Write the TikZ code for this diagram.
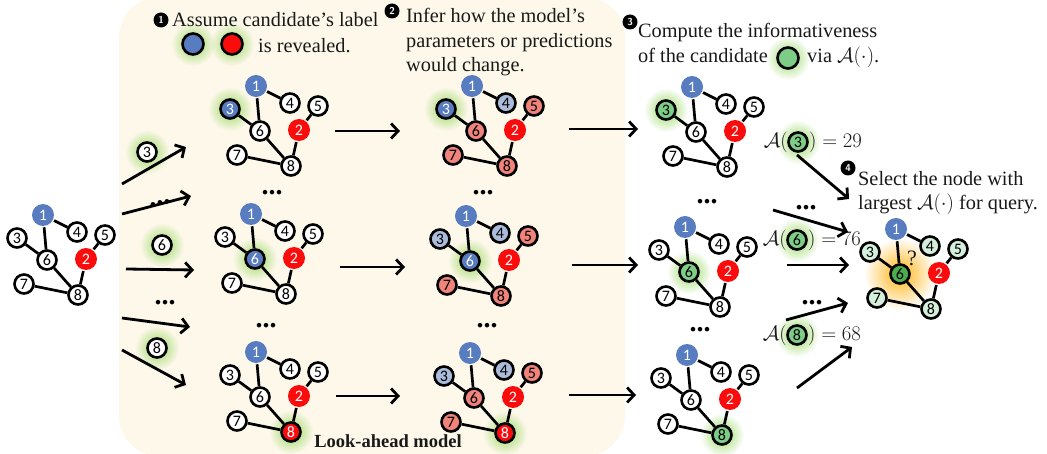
\documentclass[tikz,border=0pt]{standalone}
\usepackage{fontspec}
\setmainfont{Liberation Serif}
\newfontfamily\nf{Carlito}
\usetikzlibrary{arrows.meta,fadings}
\definecolor{nblue}{RGB}{88,124,192}
\definecolor{nred}{RGB}{250,12,12}
\definecolor{nlblue}{RGB}{170,188,218}
\definecolor{nsalm}{RGB}{240,132,122}
\definecolor{ngreen}{RGB}{125,205,135}
\definecolor{nlgreen}{RGB}{212,240,220}
\definecolor{ndgreen}{RGB}{76,172,80}
\definecolor{glowgreen}{RGB}{150,215,95}
\definecolor{gloworange}{RGB}{255,180,20}
\definecolor{beige}{RGB}{253,248,234}
\definecolor{ink}{RGB}{25,25,25}
\tikzfading[name=glowfade, inner color=transparent!0, outer color=transparent!100]
\pgfdeclarelayer{bgl}\pgfdeclarelayer{glowl}\pgfsetlayers{bgl,glowl,main}
\tikzset{
  gn/.style={circle, draw=black, line width=2.6pt, fill=white, minimum size=19pt, inner sep=0pt, text=black, font=\nf\fontsize{16}{16}\selectfont},
  pblue/.style={fill=nblue, draw=none, text=white, minimum size=22pt},
  pred/.style={fill=nred, draw=none, text=white, minimum size=22pt},
  cblue/.style={fill=nblue, text=white},
  cred/.style={fill=nred, text=white},
  lblue/.style={fill=nlblue},
  salm/.style={fill=nsalm},
  cgreen/.style={fill=ngreen},
  lgreen/.style={fill=nlgreen},
  dgreen/.style={fill=ndgreen},
  edge/.style={line width=2.7pt, black},
  arr/.style={line width=2.8pt, black, -{Straight Barb[length=7pt,width=15pt]}},
  txt/.style={font=\fontsize{20.3}{24.5}\selectfont, text=ink, inner sep=0pt},
  stepnum/.style={circle, fill=black, text=white, inner sep=0pt, minimum size=15pt, font=\sffamily\bfseries\fontsize{10}{10}\selectfont},
  dotsty/.style={font=\bfseries\fontsize{28}{28}\selectfont, inner sep=0pt, anchor=base},
}
\newcommand\drawgraph[4]{%
 \begin{scope}[shift={(#2,#3)}, s1/.style={pblue}, s2/.style={pred}, s3/.style={}, s4/.style={}, s5/.style={}, s6/.style={}, s7/.style={}, s8/.style={}, #4]
  \node[gn,s1] (#1-1) at (0,0) {1};
  \node[gn,s4] (#1-4) at (34,17) {4};
  \node[gn,s5] (#1-5) at (62,20) {5};
  \node[gn,s3] (#1-3) at (-26,23) {3};
  \node[gn,s6] (#1-6) at (4,45) {6};
  \node[gn,s2] (#1-2) at (43,44) {2};
  \node[gn,s7] (#1-7) at (-19,69) {7};
  \node[gn,s8] (#1-8) at (35,80) {8};
  \draw[edge] (#1-1)--(#1-4) (#1-1)--(#1-6) (#1-3)--(#1-6) (#1-6)--(#1-8) (#1-7)--(#1-8) (#1-2)--(#1-8) (#1-2)--(#1-5);
 \end{scope}}
\newcommand\gglow[2][22pt]{\begin{pgfonlayer}{glowl}\fill[glowgreen,path fading=glowfade] (#2) circle (#1);\end{pgfonlayer}}
\begin{document}
\begin{tikzpicture}[x=1pt,y=-1pt]
\useasboundingbox (0,0) rectangle (1047,454);
\begin{pgfonlayer}{bgl}
  \fill[beige, rounded corners=40pt] (119,-3) rectangle (625,456);
\end{pgfonlayer}

% step texts
\node[stepnum] (m1) at (161,20) {1};
\node[txt, anchor=base west] (t1a) at (172,27) {Assume candidate’s label};
\node[gn, cblue, minimum size=21pt] (lb) at (193,44) {};
\node[gn, cred, minimum size=21pt] (lr) at (232,44) {};
\gglow{lb}\gglow{lr}
\node[txt, anchor=base west] (t1b) at (258,53) {is revealed.};

\node[stepnum] (m2) at (392,11) {2};
\node[txt, anchor=base west] (t2a) at (406,23) {Infer how the model’s};
\node[txt, anchor=base west] (t2b) at (406,47.5) {parameters or predictions};
\node[txt, anchor=base west] (t2c) at (406,72) {would change.};

\node[stepnum] (m3) at (630,22) {3};
\node[txt, anchor=base west] (t3a) at (638,38) {Compute the informativeness};
\node[txt, anchor=base west] (t3b) at (638,63) {of the candidate};
\node[gn, cgreen, minimum size=21pt] (lg) at (788,58) {};
\gglow{lg}
\node[txt, anchor=base west] (t3c) at (807,63) {via $\mathcal{A}(\cdot)$.};

\node[stepnum] (m4) at (848,168) {4};
\node[txt, anchor=base west] (t4a) at (858,186) {Select the node with};
\node[txt, anchor=base west] (t4b) at (858,210) {largest $\mathcal{A}(\cdot)$ for query.};

\node[font=\bfseries\fontsize{18.5}{18.5}\selectfont, text=ink, anchor=base, inner sep=0pt] (lam) at (388,447) {Look-ahead model};

% graphs
\drawgraph{L}{43}{215}{}
\drawgraph{A}{256}{86}{s3/.style=cblue}\gglow{A-3}
\drawgraph{B}{251}{214}{s6/.style=cblue}\gglow{B-6}
\drawgraph{C}{256}{352}{s8/.style=cred}\gglow{C-8}
\drawgraph{D}{472}{86}{s3/.style=cblue, s4/.style=lblue, s5/.style=salm, s6/.style=salm, s7/.style=salm, s8/.style=salm}\gglow{D-3}
\drawgraph{E}{466}{216}{s3/.style=lblue, s4/.style=lblue, s5/.style=salm, s6/.style=cblue, s7/.style=salm, s8/.style=salm}\gglow{E-6}
\drawgraph{F}{470}{353}{s3/.style=lblue, s4/.style=lblue, s5/.style=salm, s6/.style=salm, s7/.style=salm, s8/.style=cred}\gglow{F-8}
\drawgraph{G}{692}{87}{s3/.style=cgreen}\gglow{G-3}
\drawgraph{H}{685}{227}{s6/.style=cgreen}\gglow{H-6}
\drawgraph{I}{687}{355}{s8/.style=cgreen}\gglow{I-8}
\drawgraph{J}{896}{229}{s3/.style=lgreen, s4/.style=lgreen, s5/.style=lgreen, s6/.style=dgreen, s7/.style=lgreen, s8/.style=lgreen}
\begin{pgfonlayer}{glowl}
  \fill[gloworange,path fading=glowfade] (J-6) circle (36pt);
\end{pgfonlayer}
\node[txt, font=\fontsize{22}{22}\selectfont] (q) at (912,258) {?};

% candidates on the left
\node[gn] (k3) at (147,152) {3};\gglow{k3}
\node[gn] (k6) at (162,245) {6};\gglow{k6}
\node[gn] (k8) at (157,348) {8};\gglow{k8}

% left arrows
\coordinate (a1s) at (122,184); \coordinate (a1e) at (186,147);
\coordinate (a2s) at (122,214); \coordinate (a2e) at (191,196);
\coordinate (a3s) at (126,269); \coordinate (a3e) at (194,270);
\coordinate (a4s) at (122,318); \coordinate (a4e) at (190,327);
\coordinate (a5s) at (122,350); \coordinate (a5e) at (186,385);
\draw[arr] (a1s) -- (a1e);
\draw[arr] (a2s) -- (a2e);
\draw[arr] (a3s) -- (a3e);
\draw[arr] (a4s) -- (a4e);
\draw[arr] (a5s) -- (a5e);
\node[dotsty, rotate=15] (ld1) at (161,205) {...};
\node[dotsty] (ld2) at (165,305) {...};

% column arrows
\coordinate (b1s) at (335,131); \coordinate (b1e) at (400,131);
\coordinate (b2s) at (340,267); \coordinate (b2e) at (405,267);
\coordinate (b3s) at (336,396); \coordinate (b3e) at (400,396);
\coordinate (c1s) at (569,129); \coordinate (c1e) at (638,129);
\coordinate (c2s) at (572,265); \coordinate (c2e) at (638,265);
\coordinate (c3s) at (569,395); \coordinate (c3e) at (636,395);
\foreach \p in {b1,b2,b3,c1,c2,c3} \draw[arr] (\p s) -- (\p e);

% column dots
\node[dotsty] (d1) at (272,195) {...};
\node[dotsty] (d2) at (266,327) {...};
\node[dotsty] (d3) at (483,195) {...};
\node[dotsty] (d4) at (487,328) {...};
\node[dotsty] (d5) at (707,204) {...};
\node[dotsty] (d6) at (700,332) {...};

% scores
\node[gn, cgreen] (s3) at (798,142) {3};\gglow{s3}
\node[txt, anchor=base east] (s3a) at (788,148) {$\mathcal{A}($};
\node[txt, anchor=base west] (s3b) at (809,148) {$) = 29$};
\node[gn, cgreen] (s6) at (797,240) {6};\gglow{s6}
\node[txt, anchor=base east] (s6a) at (787,246) {$\mathcal{A}($};
\node[txt, anchor=base west] (s6b) at (808,246) {$) = 76$};
\node[gn, cgreen] (s8) at (797,335) {8};\gglow{s8}
\node[txt, anchor=base east] (s8a) at (787,341) {$\mathcal{A}($};
\node[txt, anchor=base west] (s8b) at (808,341) {$) = 68$};

% right arrows
\coordinate (r1s) at (797,155); \coordinate (r1e) at (849,199);
\coordinate (r2s) at (773,210); \coordinate (r2e) at (848,232);
\coordinate (r3s) at (787,265); \coordinate (r3e) at (849,265);
\coordinate (r4s) at (786,320); \coordinate (r4e) at (848,303);
\coordinate (r5s) at (797,388); \coordinate (r5e) at (852,347);
\foreach \p in {r1,r2,r3,r4,r5} \draw[arr] (\p s) -- (\p e);
\node[dotsty] (rd1) at (806,210) {...};
\node[dotsty] (rd2) at (812,305) {...};
\end{tikzpicture}
\end{document}
